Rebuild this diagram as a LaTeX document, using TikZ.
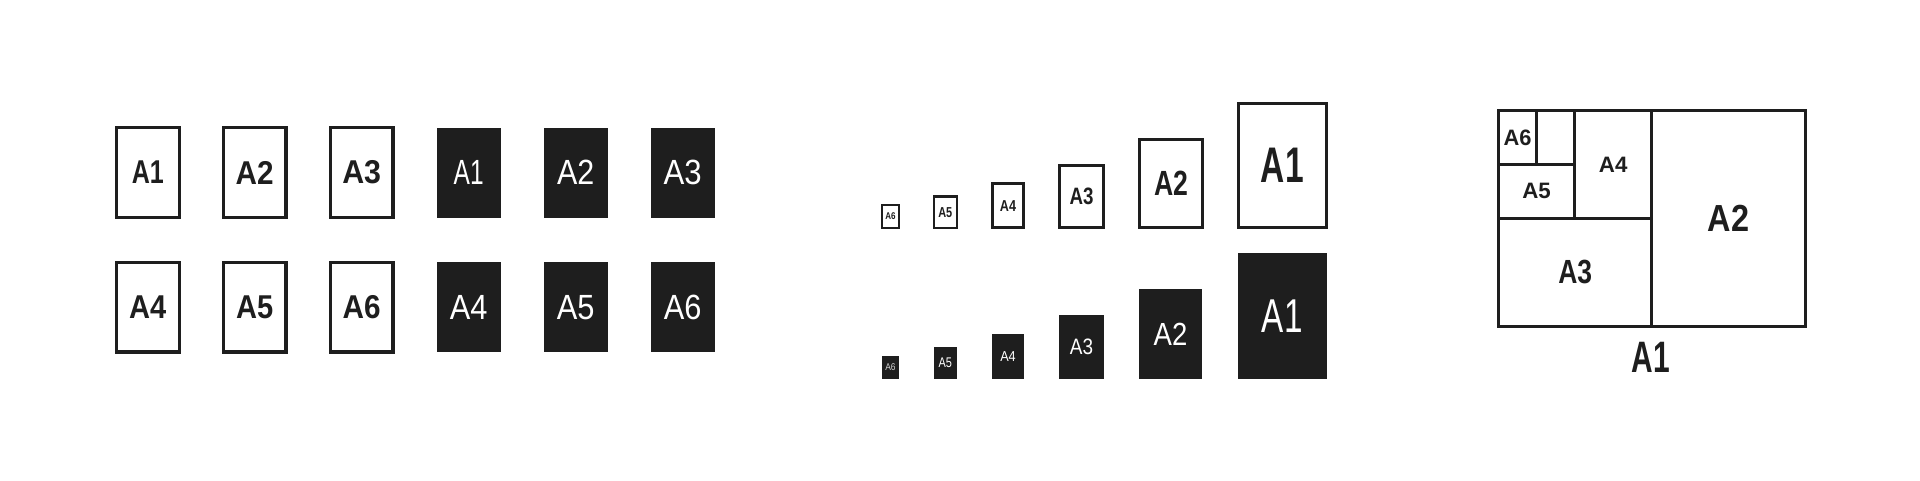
\documentclass[tikz,border=0pt]{standalone}
\usepackage{fontspec}
\setmainfont{Liberation Sans}
\usepackage{graphicx}
\definecolor{ink}{RGB}{30,30,30}
\newcommand\nar[2]{\scalebox{#1}[1]{#2}}
\newcommand\fs[1]{\fontsize{#1}{#1}\selectfont}
\begin{document}
\begin{tikzpicture}[x=1pt,y=-1pt,
  ob/.style={draw=ink, line width=3pt, inner sep=0pt, text=ink, font=\bfseries\fs{#1}},
  fb/.style={fill=ink, draw=none, inner sep=0pt, text=white, font=\fs{#1}},
  cell/.style={draw=ink, line width=3pt, inner sep=0pt, text=ink, anchor=north west, font=\bfseries\fs{#1}},
  lw/.style={line width=#1pt},
  sz/.style 2 args={minimum width=#1pt, minimum height=#2pt}
]
\useasboundingbox (0,0) rectangle (1920,480);
% ---- left block: outlined
\node[ob=33, lw=3.3, sz={62.7}{89.7}] (lo1) at (147.8,172.5) {\nar{0.76}{A1}};
\node[ob=33, lw=3.3, sz={62.7}{89.7}] (lo2) at (254.7,172.5) {\nar{0.9}{A2}};
\node[ob=33, lw=3.3, sz={62.7}{89.7}] (lo3) at (361.7,172.5) {\nar{0.92}{A3}};
\node[ob=33, lw=3.3, sz={62.7}{89.7}] (lo4) at (147.8,307.2) {\nar{0.88}{A4}};
\node[ob=33, lw=3.3, sz={62.7}{89.7}] (lo5) at (254.7,307.2) {\nar{0.88}{A5}};
\node[ob=33, lw=3.3, sz={62.7}{89.7}] (lo6) at (361.7,307.2) {\nar{0.9}{A6}};
% ---- left block: filled
\node[fb=35, sz={64}{90}] (lf1) at (468.7,172.7) {\nar{0.7}{A1}};
\node[fb=35, sz={64}{90}] (lf2) at (575.7,172.7) {\nar{0.87}{A2}};
\node[fb=35, sz={64}{90}] (lf3) at (682.7,172.7) {\nar{0.89}{A3}};
\node[fb=35, sz={64}{90}] (lf4) at (468.7,307.2) {\nar{0.88}{A4}};
\node[fb=35, sz={64}{90}] (lf5) at (575.7,307.2) {\nar{0.88}{A5}};
\node[fb=35, sz={64}{90}] (lf6) at (682.7,307.2) {\nar{0.88}{A6}};
% ---- middle block: outlined
\node[ob=9.8, lw=2, sz={17}{23}] (mo6) at (890.5,216.6) {\nar{0.82}{A6}};
\node[ob=14.4, lw=2.3, sz={23}{31.4}] (mo5) at (945.3,212.2) {\nar{0.76}{A5}};
\node[ob=15.8, lw=2.7, sz={31.3}{44}] (mo4) at (1008,205.6) {\nar{0.8}{A4}};
\node[ob=23.7, lw=3, sz={44}{62}] (mo3) at (1081.5,196.5) {\nar{0.79}{A3}};
\node[ob=35, lw=3, sz={62.7}{87.7}] (mo2) at (1171,183.7) {\nar{0.76}{A2}};
\node[ob=50, lw=3.3, sz={88}{124}] (mo1) at (1282.3,165.4) {\nar{0.67}{A1}};
% ---- middle block: filled
\node[fb=9.8, sz={16.4}{22.7}, text=white!80!ink] (mf6) at (890.5,367.3) {\nar{0.86}{A6}};
\node[fb=14, sz={22.7}{31.7}] (mf5) at (945.3,362.8) {\nar{0.78}{A5}};
\node[fb=14.4, sz={32}{45}] (mf4) at (1008,356.5) {\nar{0.88}{A4}};
\node[fb=22.3, sz={45}{63.7}] (mf3) at (1081.5,347.2) {\nar{0.85}{A3}};
\node[fb=32, sz={63}{89.7}] (mf2) at (1170.5,334.2) {\nar{0.86}{A2}};
\node[fb=47.5, sz={88.7}{126}] (mf1) at (1282.3,316) {\nar{0.7}{A1}};
% ---- right block: A-series subdivision
\node[cell=20, sz={306.5}{215.5}] (r1) at (1497,109) {};
\node[cell=37.7, sz={153.2}{215.5}] (r2) at (1650.3,109) {\nar{0.86}{A2}};
\node[cell=33.5, sz={153.3}{107.8}] (r3) at (1497,216.7) {\nar{0.79}{A3}};
\node[cell=22.3, sz={77.3}{107.7}] (r4) at (1573,109) {\nar{1.0}{A4}};
\node[cell=22.3, sz={76}{54}] (r5) at (1497,162.7) {\nar{1.0}{A5}};
\node[cell=22.3, sz={38}{53.7}] (r6) at (1497,109) {\nar{0.98}{A6}};
\node[cell=20, sz={38}{53.7}] (r7) at (1535,109) {};
\node[inner sep=0pt, text=ink, font=\bfseries\fs{44}] (r1lab) at (1650.8,357.5) {\nar{0.68}{A1}};
\end{tikzpicture}
\end{document}
